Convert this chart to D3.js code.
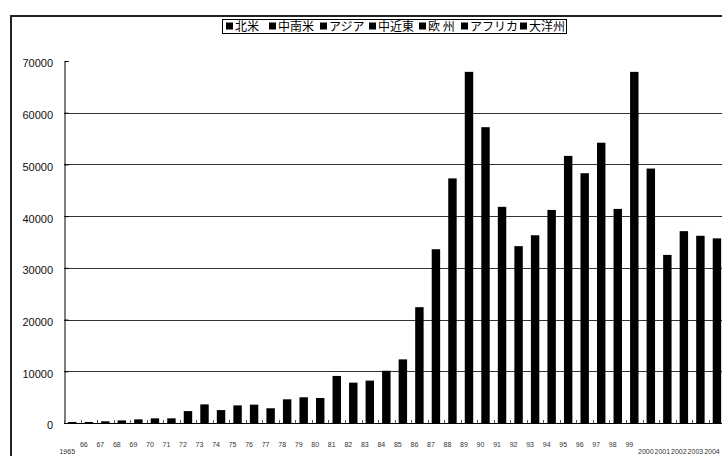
<!DOCTYPE html>
<html>
<head>
<meta charset="utf-8">
<script src="https://cdn.jsdelivr.net/npm/d3@7/dist/d3.min.js"></script>
<style>
  html, body { margin: 0; padding: 0; background: #fff; }
  svg { display: block; }
</style>
</head>
<body>
<script>
// Yearly totals, 1965–2004
const years = d3.range(1965, 2005);
const totals = [
  200, 200, 330, 500, 700, 900, 900, 2300, 3600, 2500,
  3400, 3550, 2850, 4580, 4970, 4840, 9100, 7800, 8200, 10100,
  12300, 22400, 33600, 47300, 67900, 57200, 41800, 34200, 36300, 41200,
  51650, 48300, 54200, 41400, 67900, 49200, 32500, 37100, 36200, 35700
];
const yearLabels = years.map(y => (y === 1965 || y >= 2000) ? String(y) : String(y).slice(2));
const regions = ["北米", "中南米", "アジア", "中近東", "欧 州", "アフリカ", "大洋州"];
const yTicks = [0, 10000, 20000, 30000, 40000, 50000, 60000, 70000];

const W = 722, H = 456;
const plot = { left: 64, right: 725.2, top: 61, bottom: 423 };

const svg = d3.select("body").append("svg").attr("width", W).attr("height", H);

// outer chart frame
svg.append("path")
  .attr("d", `M11,${H + 5} V16 H${W + 5}`)
  .attr("fill", "none").attr("stroke", "#222").attr("stroke-width", 2);

const x = d3.scaleBand().domain(years).range([plot.left, plot.right])
  .paddingInner(0.49).paddingOuter(0.245);
const y = d3.scaleLinear().domain([0, 70000]).range([plot.bottom, plot.top]);

// horizontal gridlines
svg.append("g").selectAll("line").data(yTicks.filter(t => t > 0 && t < 70000)).join("line")
  .attr("x1", plot.left).attr("x2", W + 5)
  .attr("y1", d => Math.round(y(d)) + 0.5).attr("y2", d => Math.round(y(d)) + 0.5)
  .attr("stroke", "#333").attr("stroke-width", 1);

// bars
svg.append("g").selectAll("rect").data(years).join("rect")
  .attr("x", (d) => x(d))
  .attr("width", x.bandwidth())
  .attr("y", (d, i) => y(totals[i]))
  .attr("height", (d, i) => y(0) - y(totals[i]))
  .attr("fill", "#000");

// y axis (ticks inside)
const yAxis = svg.append("g").attr("transform", `translate(${plot.left + 0.5},0)`)
  .call(d3.axisRight(y).tickValues(yTicks).tickSize(4).tickFormat(""));
yAxis.select(".domain").attr("stroke", "#000");
yAxis.selectAll(".tick line").attr("stroke", "#000");

svg.append("g").selectAll("text").data(yTicks).join("text")
  .attr("x", 53).attr("y", d => y(d) + 6.4)
  .attr("text-anchor", "end")
  .attr("font-family", "Liberation Sans, Arial, sans-serif")
  .attr("font-size", 11)
  .attr("fill", "#111")
  .text(d => d);

// x axis with boundary ticks
const step = x.step();
const bounds = d3.range(0, years.length + 1).map(k => plot.left + step * k);
svg.append("line")
  .attr("x1", plot.left).attr("x2", W + 5)
  .attr("y1", plot.bottom + 0.5).attr("y2", plot.bottom + 0.5)
  .attr("stroke", "#000");
svg.append("g").selectAll("line").data(bounds).join("line")
  .attr("x1", d => Math.round(d) + 0.5).attr("x2", d => Math.round(d) + 0.5)
  .attr("y1", plot.bottom).attr("y2", plot.bottom - 3)
  .attr("stroke", "#555");

// year labels
svg.append("g").selectAll("text").data(years).join("text")
  .attr("x", d => x(d) + x.bandwidth() / 2 - 5)
  .attr("y", (d, i) => yearLabels[i].length > 2 ? 454 : 447)
  .attr("text-anchor", "middle")
  .attr("font-family", "Liberation Sans, Arial, sans-serif")
  .attr("font-size", 7)
  .attr("fill", "#333")
  .text((d, i) => yearLabels[i]);

// legend
const legend = svg.append("g");
legend.append("rect")
  .attr("x", 222.5).attr("y", 19.5).attr("width", 344).attr("height", 14)
  .attr("fill", "#fff").attr("stroke", "#000");
const legendX = [224, 267, 318, 367, 417, 459, 518];
const items = legend.selectAll("g").data(regions).join("g")
  .attr("transform", (d, i) => `translate(${legendX[i]},0)`);
items.append("rect").attr("x", 2).attr("y", 22.5).attr("width", 7).attr("height", 7).attr("fill", "#000");
items.append("text")
  .attr("x", 11).attr("y", 30.5)
  .attr("font-family", "Noto Sans CJK JP, sans-serif")
  .attr("font-size", 12)
  .attr("fill", "#000")
  .text(d => d);
</script>
</body>
</html>
